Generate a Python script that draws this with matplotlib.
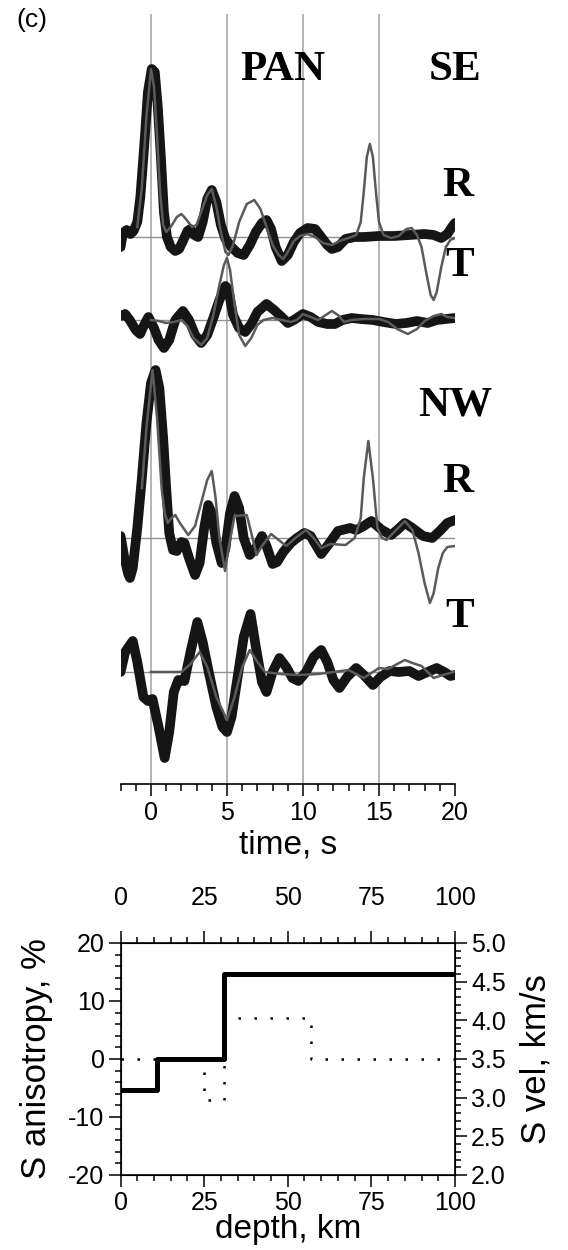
import matplotlib
matplotlib.use("Agg")
import matplotlib.pyplot as plt
import matplotlib.transforms as mtransforms
from matplotlib.ticker import MultipleLocator

plt.rcParams['font.family'] = ['Liberation Sans', 'DejaVu Sans']
plt.rcParams['axes.unicode_minus'] = False

# receiver functions, amplitudes in plot units (offset from each trace baseline)
# SE radial, data (thick) and synthetic (thin)
t_se_r = [-2.0, -1.85, -1.6, -1.35, -1.15, -0.9, -0.7, -0.45, -0.2, 0.05, 0.25, 0.45, 0.65, 0.85,
          1.05, 1.3, 1.6, 1.85, 2.1, 2.4, 2.6, 2.85, 3.1, 3.4, 3.7, 4.0, 4.3, 4.6, 4.9, 5.3, 5.7,
          6.1, 6.5, 6.9, 7.3, 7.6, 7.9, 8.2, 8.6, 9.0, 9.4, 9.8, 10.3, 10.8, 11.2, 11.6, 11.9,
          12.3, 12.8, 13.4, 14.0, 15.0, 16.0, 17.0, 18.0, 18.6, 19.1, 19.5, 19.8, 20.0]
a_se_r = [-10, 4, 7, 3, 6, 15, 40, 90, 145, 168, 165, 130, 80, 25,
          0, -10, -14, -12, -4, 6, 8, 2, 0, 15, 38, 47, 35, 12, -2, -10, -16,
          -18, -8, 5, 14, 17, 8, -10, -24, -18, -5, 4, 9, 8, 0, -8, -12,
          -10, -2, 0, 0, 1, 1, 2, 3, 2, -1, 3, 10, 14]
ts_se_r = [-0.9, -0.6, -0.3, 0.0, 0.2, 0.4, 0.6, 0.8, 1.0, 1.3, 1.7, 2.0, 2.3, 2.7, 3.0, 3.3,
           3.7, 4.0, 4.3, 4.6, 4.9, 5.1, 5.4, 5.8, 6.3, 6.8, 7.2, 7.6, 8.0, 8.4, 8.7, 9.0, 9.4,
           9.8, 10.3, 10.8, 11.3, 11.9, 12.4, 13.0, 13.5, 13.8, 14.0, 14.2, 14.4, 14.6, 14.8,
           15.0, 15.3, 15.8, 16.3, 16.8, 17.15, 17.5, 17.8, 18.1, 18.4, 18.6, 18.8, 19.1, 19.4,
           19.7, 20.0]
s_se_r = [10, 50, 120, 168, 150, 100, 45, 12, 5, 10, 20, 23, 18, 10, 12, 25,
          42, 48, 30, 5, -15, -18, -8, 15, 33, 37, 28, 10, -8, -18, -22, -15, -4,
          1, 3, 0, -6, -8, -4, -1, 2, 15, 45, 80, 93, 80, 45,
          15, 2, -1, 1, 8, 9, 2, -10, -35, -58, -63, -55, -30, -10,
          -3, -1]

# SE transverse
t_se_t = [-2.0, -1.7, -1.4, -1.0, -0.72, -0.45, -0.17, 0.2, 0.5, 0.85, 1.2, 1.6, 2.1, 2.5, 2.9,
          3.3, 3.7, 4.1, 4.5, 4.9, 5.1, 5.4, 5.8, 6.2, 6.6, 7.0, 7.6, 8.1, 8.6, 9.0, 9.4, 10.0,
          10.5, 11.0, 11.6, 12.1, 12.6, 13.2, 13.8, 14.6, 15.3, 16.1, 16.8, 17.5, 18.2, 18.8,
          19.4, 20.0]
a_se_t = [4, 6, 0, -10, -14, -5, 3, -8, -20, -28, -20, 0, 9, 0, -15,
          -23, -15, 2, 20, 34, 30, 5, -8, -12, -4, 8, 16, 10, 3, -3, 0, 6,
          3, -2, -4, -4, 0, 2, 1, 0, -2, -4, -3, -1, -3, 0,
          1, 2]
ts_se_t = [0.0, 0.5, 1.0, 1.5, 2.0, 2.4, 2.8, 3.3, 3.7, 4.1, 4.5, 4.8, 5.0, 5.2, 5.5, 5.8,
           6.2, 6.6, 7.0, 7.4, 8.0, 8.6, 9.2, 9.6, 10.0, 10.5, 11.0, 11.5, 11.9, 12.3, 12.7,
           13.2, 14.0, 15.0, 15.6, 16.2, 16.9, 17.5, 18.0, 18.6, 19.1, 19.5, 20.0]
s_se_t = [0, -1, -3, -2, 0, -6, -18, -25, -18, 5, 35, 55, 62, 50, 15, -15,
          -26, -18, -5, 0, 2, 0, -2, 0, 6, 3, 0, 5, 9, 5, -2,
          0, 1, 1, -2, -9, -14, -9, -1, 4, 6, 3, 2]

# NW radial
t_nw_r = [-2.0, -1.75, -1.5, -1.38, -1.2, -0.9, -0.6, -0.3, 0.0, 0.3, 0.55, 0.8, 1.0, 1.2, 1.45,
          1.7, 2.0, 2.2, 2.5, 2.9, 3.2, 3.5, 3.77, 4.0, 4.3, 4.65, 4.9, 5.2, 5.5, 5.8, 6.1, 6.5,
          6.9, 7.3, 7.6, 8.0, 8.3, 8.7, 9.2, 9.6, 10.1, 10.5, 11.2, 11.7, 12.3, 13.1, 13.5,
          14.0, 14.5, 15.2, 15.8, 16.2, 16.7, 17.2, 17.9, 18.5, 19.0, 19.5, 20.0]
a_nw_r = [2, -20, -36, -40, -30, 10, 60, 115, 155, 168, 150, 100, 50, 5, -12,
          -13, -4, -5, -20, -37, -25, 10, 33, 25, -5, -25, -10, 25, 42, 30, 0, -17,
          -10, 2, -8, -26, -24, -14, -5, 0, 5, 2, -16, -6, 7, 10, 8,
          12, 17, 8, 3, 8, 15, 10, 2, 0, 7, 15, 18]
ts_nw_r = [-0.6, -0.3, 0.1, 0.4, 0.7, 0.9, 1.1, 1.35, 1.6, 1.9, 2.45, 2.9, 3.3, 3.7, 4.0,
           4.25, 4.5, 4.87, 5.1, 5.5, 6.3, 6.6, 6.95, 7.3, 7.9, 8.4, 8.9, 9.5, 10.2, 10.7,
           11.2, 11.8, 12.8, 13.4, 13.8, 14.0, 14.3, 14.6, 14.9, 15.2, 15.5, 16.0, 16.7,
           17.2, 17.6, 18.0, 18.35, 18.6, 18.9, 19.2, 19.5, 20.0]
s_nw_r = [50, 110, 168, 120, 50, 25, 15, 20, 23, 15, 3, 12, 35, 58, 67,
          40, 0, -33, -10, 22, 23, 5, -17, -8, 4, -2, -8, 0, 8, 0,
          -10, -6, -7, 0, 20, 60, 97, 60, 10, 0, -2, 6, 17,
          8, -15, -45, -65, -55, -30, -15, -9, -8]

# NW transverse
t_nw_t = [-2.0, -1.7, -1.2, -0.9, -0.5, -0.2, 0.1, 0.5, 0.9, 1.2, 1.5, 1.8, 2.2, 2.6, 3.05,
          3.4, 3.8, 4.3, 4.7, 5.0, 5.3, 5.7, 6.1, 6.55, 6.9, 7.3, 7.6, 8.0, 8.45, 8.9, 9.3,
          9.7, 10.2, 10.7, 11.2, 11.6, 12.0, 12.4, 12.9, 13.5, 14.0, 14.6, 15.1, 15.7, 16.3,
          17.0, 17.6, 18.2, 18.8, 19.3, 19.7, 20.0]
a_nw_t = [0, 20, 31, 10, -25, -29, -27, -55, -86, -60, -20, -8, -9, 20, 50,
          30, 0, -35, -55, -60, -45, -5, 35, 58, 25, -10, -20, 0, 14, 5, -6,
          -9, 0, 15, 22, 10, -8, -16, -5, 4, -3, -13, -5, 1, 0,
          1, -4, 0, 4, 0, -4, -3]
ts_nw_t = [0.0, 1.0, 2.0, 2.6, 3.2, 3.7, 4.3, 5.0, 5.5, 6.0, 6.5, 7.0, 7.5, 8.5, 9.7,
           11.0, 12.0, 13.0, 14.0, 14.6, 15.0, 15.6, 16.2, 16.7, 17.2, 17.8, 18.6, 19.2, 19.9]
s_nw_t = [0, 0, 0, 8, 20, 5, -25, -48, -25, 5, 22, 10, 0, -2, -3,
          -2, 0, 2, -6, 0, 4, 3, 8, 12, 9, 6, -6, -3, 0]

# trace baselines (plot units)
base_se_r, base_se_t, base_nw_r, base_nw_t = 547, 464, 246, 112

# model: depth, km
vel_depth = [0, 11, 31, 100]
vel = [3.1, 3.5, 4.6]           # S vel, km/s
ani_depth = [0, 25, 31, 57, 100]
ani = [0, -7, 7, 0]             # S anisotropy, %

fig = plt.figure(figsize=(5.68, 12.5), dpi=100)

# ---- receiver functions ----
ax = fig.add_axes([0.2123, 0.3728, 0.5887, 0.616])
ax.set_xlim(-2, 20)
ax.set_ylim(0, 770)
for s in ['left', 'top', 'right']:
    ax.spines[s].set_visible(False)
ax.spines['bottom'].set_linewidth(1.2)
ax.set_yticks([])
ax.set_xticks([0, 5, 10, 15, 20])
ax.xaxis.set_minor_locator(MultipleLocator(1))
ax.tick_params(axis='x', which='major', length=8.5, width=1.1, labelsize=18, pad=4)
ax.tick_params(axis='x', which='minor', length=5, width=1.1)
ax.set_xlabel('time, s', fontsize=24, labelpad=3)

for xv in [0, 5, 10, 15]:
    ax.axvline(xv, color='#a0a0a0', lw=1.1, zorder=1)

pairs = [(t_se_r, a_se_r, ts_se_r, s_se_r, base_se_r),
         (t_se_t, a_se_t, ts_se_t, s_se_t, base_se_t),
         (t_nw_r, a_nw_r, ts_nw_r, s_nw_r, base_nw_r),
         (t_nw_t, a_nw_t, ts_nw_t, s_nw_t, base_nw_t)]
for td, ad, tsy, ss, b in pairs:
    ax.hlines(b, -2, 20, color='#909090', lw=1.0, zorder=1)
    ax.plot(td, [b + v for v in ad], color='#151515', lw=7,
            solid_joinstyle='round', solid_capstyle='round', zorder=2)
    ax.plot(tsy, [b + v for v in ss], color='#5a5a5a', lw=1.8,
            solid_joinstyle='round', zorder=3)

lab = dict(fontsize=31, fontweight='bold', family=['Liberation Serif', 'DejaVu Serif'],
           ha='center', va='center', clip_on=False)
ax.text(8.7, 714, 'PAN', **lab)
ax.text(20.0, 714, 'SE', **lab)
ax.text(20.2, 598, 'R', **lab)
ax.text(20.3, 518, 'T', **lab)
ax.text(20.0, 378, 'NW', **lab)
ax.text(20.2, 302, 'R', **lab)
ax.text(20.3, 167, 'T', **lab)

fig.text(0.056, 0.984, '(c)', fontsize=19, ha='center', va='center')

# ---- model ----
ax2 = fig.add_axes([0.2123, 0.06, 0.5887, 0.1856])
ax2.set_xlim(0, 100)
ax2.set_ylim(-20, 20)
ax2.step(ani_depth, ani + [ani[-1]], where='post', color='black', lw=1.8,
         linestyle=(0, (1, 5.4)))
ax2.set_xticks([0, 25, 50, 75, 100])
ax2.xaxis.set_minor_locator(MultipleLocator(5))
ax2.set_yticks([-20, -10, 0, 10, 20])
ax2.yaxis.set_minor_locator(MultipleLocator(2))
ax2.tick_params(which='both', direction='out', top=True, labeltop=True, width=1.1, labelsize=18)
ax2.tick_params(which='major', length=8.5, pad=3)
ax2.tick_params(which='minor', length=4.5)
ax2.set_xlabel('depth, km', fontsize=24, labelpad=-1)
ax2.set_ylabel('S anisotropy, %', fontsize=25, labelpad=11)
for s in ax2.spines.values():
    s.set_linewidth(1.2)

# top tick labels of the model panel sit well above the frame
shift = mtransforms.ScaledTranslation(0, 12 / 72, fig.dpi_scale_trans)
for tk in ax2.xaxis.get_major_ticks():
    tk.label2.set_transform(tk.label2.get_transform() + shift)

ax3 = ax2.twinx()
ax3.set_ylim(2.0, 5.0)
ax3.step(vel_depth, vel + [vel[-1]], where='post', color='black', lw=3.6)
ax3.set_yticks([2.0, 2.5, 3.0, 3.5, 4.0, 4.5, 5.0])
ax3.set_yticklabels(['2.0', '2.5', '3.0', '3.5', '4.0', '4.5', '5.0'])
ax3.yaxis.set_minor_locator(MultipleLocator(0.1))
ax3.tick_params(which='both', direction='out', width=1.1, labelsize=18)
ax3.tick_params(which='major', length=8.5, pad=3)
ax3.tick_params(which='minor', length=4.5)
ax3.set_ylabel('S vel, km/s', fontsize=25, labelpad=10)

fig.savefig('out.png', dpi=100)
